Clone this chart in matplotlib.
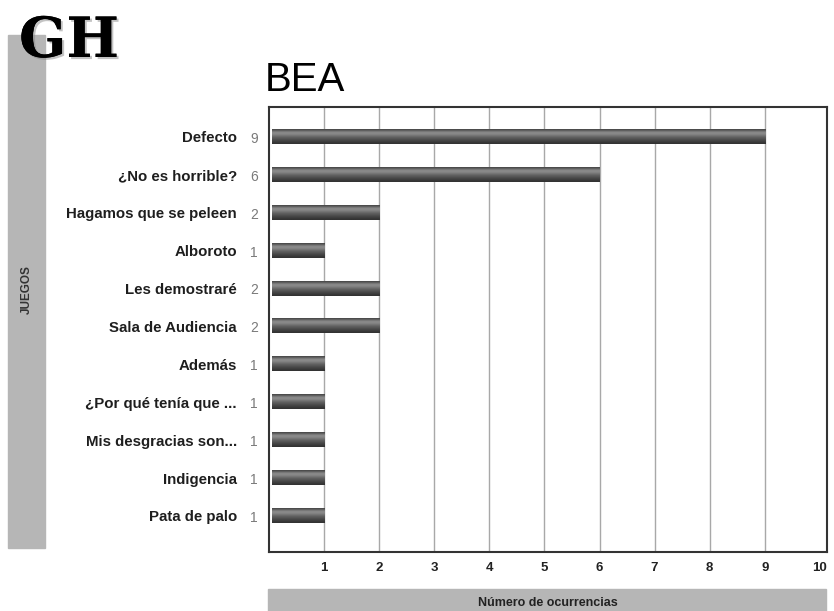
import matplotlib
matplotlib.use("Agg")
import matplotlib.pyplot as plt
import matplotlib.patheffects as pe
import numpy as np

juegos = ["Defecto", "¿No es horrible?", "Hagamos que se peleen", "Alboroto",
          "Les demostraré", "Sala de Audiencia", "Además",
          "¿Por qué tenía que ...", "Mis desgracias son...", "Indigencia",
          "Pata de palo"]
ocurrencias = [9, 6, 2, 1, 2, 2, 1, 1, 1, 1, 1]
ticks = [1, 2, 3, 4, 5, 6, 7, 8, 9, 10]

plt.rcParams['font.family'] = ['Liberation Sans', 'DejaVu Sans']

fig = plt.figure(figsize=(8.34, 6.11), dpi=100)

# gray side band with the category title
fig.patches.append(plt.Rectangle((8/834, 1-548/611), 37/834, 513/611,
                                 transform=fig.transFigure, color='#b6b6b6', zorder=0))
fig.text(27/834, 1-290/611, "JUEGOS", rotation=90, ha='center', va='center',
         fontsize=8.5, fontweight='bold', color='#333333')

# bottom band with the axis title
fig.patches.append(plt.Rectangle((268/834, 0), 558/834, 22/611,
                                 transform=fig.transFigure, color='#b6b6b6', zorder=0))
fig.text(548/834, 8/611, "Número de ocurrencias", ha='center', va='center',
         fontsize=9, fontweight='bold', color='#222222')

# logo
fig.text(19/834, 1-57/611, "GH", fontsize=40, fontweight='bold',
         family='DejaVu Serif', color='black', zorder=5,
         path_effects=[pe.withSimplePatchShadow(offset=(1.5, -1.5), shadow_rgbFace='#888888', alpha=0.5),
                       pe.Normal()])

fig.text(265/834, 1-91/611, "BEA", fontsize=29, color='black')

ax = fig.add_axes([269/834, 1-552/611, 558/834, 445/611])

# cylinder-like shading for each bar
shade = np.array([0.30, 0.45, 0.55, 0.52, 0.45, 0.38, 0.33, 0.28, 0.24, 0.20])[:, None]
h = 0.37
for i, v in enumerate(ocurrencias):
    ax.imshow(shade, cmap='gray', vmin=0, vmax=1, aspect='auto',
              extent=[0.05, v, i + h/2, i - h/2], zorder=3, interpolation='bilinear')
    ax.text(-0.2, i + 0.05, str(v), ha='right', va='center', fontsize=10, color='#7a7a7a')

ax.set_xlim(0, 10.13)
ax.set_ylim(10.95, -0.79)
ax.set_xticks(ticks)
ax.set_xticklabels([str(t) for t in ticks], fontsize=9.5, fontweight='bold', color='#222222')
ax.set_yticks(range(len(juegos)))
ax.set_yticklabels(juegos, fontsize=10.8, fontweight='bold', color='#1e1e1e')
ax.tick_params(axis='y', length=0, pad=23)
ax.tick_params(axis='x', length=0, pad=7)
for t in ticks[:-1]:
    ax.axvline(t, color='#a8a8a8', linewidth=1, zorder=1)
for s in ax.spines.values():
    s.set_color('#333333')
    s.set_linewidth(1.5)

fig.savefig("out.png", dpi=100)
